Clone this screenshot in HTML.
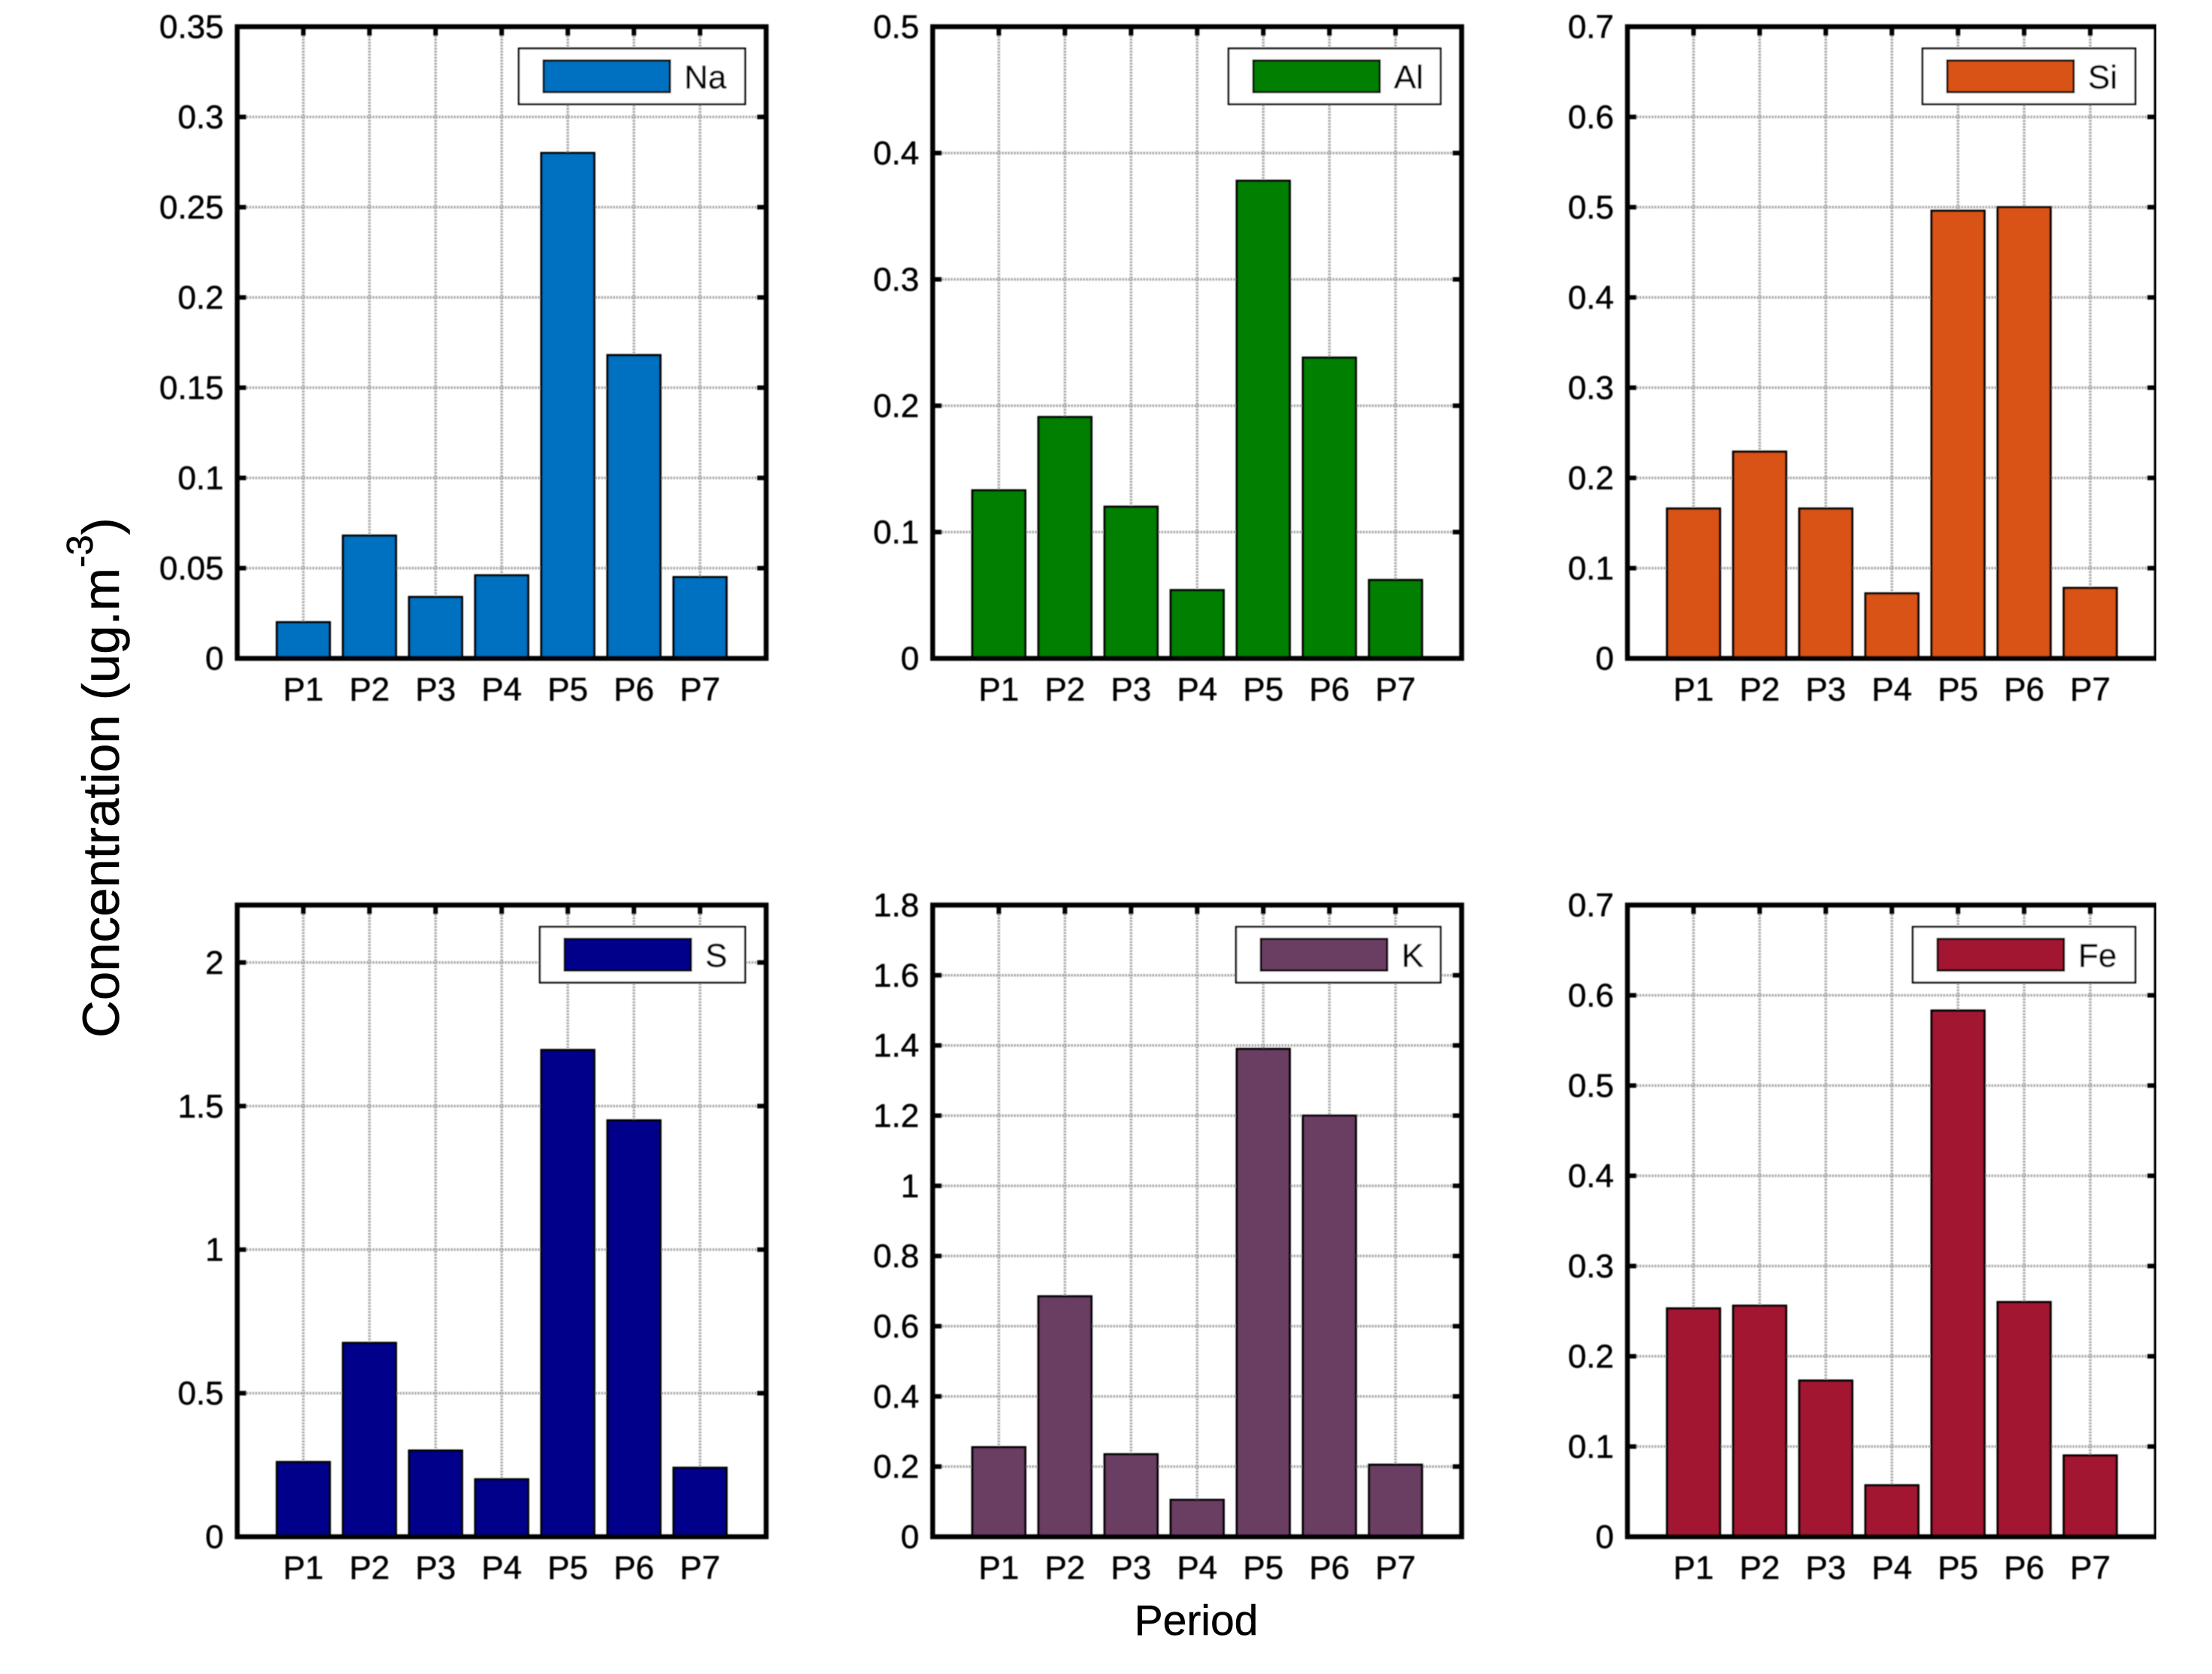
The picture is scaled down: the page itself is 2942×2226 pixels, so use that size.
<!DOCTYPE html>
<html lang="en">
<head>
<meta charset="utf-8">
<title>Concentration by period</title>
<style>
html,body{margin:0;padding:0;background:#fff;width:2942px;height:2226px;overflow:hidden}
svg{display:block;font-family:"Liberation Sans",sans-serif}
</style>
</head>
<body>
<svg id="figure" xmlns="http://www.w3.org/2000/svg" width="2942" height="2226" viewBox="0 0 2942 2226">
  <defs><filter id="soft" x="0" y="0" width="100%" height="100%"><feGaussianBlur stdDeviation="0.7"/></filter></defs>
  <rect width="2942" height="2226" fill="#ffffff"/>
  <g id="plots" filter="url(#soft)"></g>
  <text transform="translate(158 1380) rotate(-90)" font-size="69" fill="#000" stroke="#000" stroke-width="0.5">Concentration (ug.m<tspan dy="-35" font-size="49">-3</tspan><tspan dy="35">)</tspan></text>
  <text x="1591" y="2174" font-size="57" text-anchor="middle" fill="#000" stroke="#000" stroke-width="0.5">Period</text>
</svg>
<script>
const categories = ["P1", "P2", "P3", "P4", "P5", "P6", "P7"];

const naValues = [0.02, 0.068, 0.034, 0.046, 0.28, 0.168, 0.045];
const alValues = [0.133, 0.191, 0.12, 0.054, 0.378, 0.238, 0.062];
const siValues = [0.166, 0.229, 0.166, 0.072, 0.496, 0.5, 0.078];
const sValues = [0.26, 0.675, 0.3, 0.2, 1.695, 1.45, 0.24];
const kValues = [0.255, 0.685, 0.235, 0.105, 1.39, 1.2, 0.205];
const feValues = [0.253, 0.256, 0.173, 0.057, 0.583, 0.26, 0.09];

const naTicks = ["0", "0.05", "0.1", "0.15", "0.2", "0.25", "0.3", "0.35"];
const alTicks = ["0", "0.1", "0.2", "0.3", "0.4", "0.5"];
const siTicks = ["0", "0.1", "0.2", "0.3", "0.4", "0.5", "0.6", "0.7"];
const sTicks = ["0", "0.5", "1", "1.5", "2"];
const kTicks = ["0", "0.2", "0.4", "0.6", "0.8", "1", "1.2", "1.4", "1.6", "1.8"];
const feTicks = ["0", "0.1", "0.2", "0.3", "0.4", "0.5", "0.6", "0.7"];

const xMax = 8;
const barWidth = 0.8;
const plotWidth = 703.5;
const plotHeight = 840;

const panels = [
  {name: "na", label: "Na", values: naValues, ticks: naTicks, yMax: 0.35, color: "#0070c0", left: 315.5, top: 35.5, legendWidth: 301},
  {name: "al", label: "Al", values: alValues, ticks: alTicks, yMax: 0.5, color: "#007f00", left: 1240.5, top: 35.5, legendWidth: 282},
  {name: "si", label: "Si", values: siValues, ticks: siTicks, yMax: 0.7, color: "#da5318", left: 2164.5, top: 35.5, legendWidth: 283},
  {name: "s", label: "S", values: sValues, ticks: sTicks, yMax: 2.2, color: "#00008b", left: 315.5, top: 1203.5, legendWidth: 273},
  {name: "k", label: "K", values: kValues, ticks: kTicks, yMax: 1.8, color: "#6b3e63", left: 1240.5, top: 1203.5, legendWidth: 272},
  {name: "fe", label: "Fe", values: feValues, ticks: feTicks, yMax: 0.7, color: "#a21230", left: 2164.5, top: 1203.5, legendWidth: 296}
];

const SVG_NS = "http://www.w3.org/2000/svg";

function make(tag, attrs, parent) {
  const node = document.createElementNS(SVG_NS, tag);
  for (const key in attrs) node.setAttribute(key, attrs[key]);
  parent.appendChild(node);
  return node;
}

function xScale(panel, value) {
  return panel.left + (value / xMax) * plotWidth;
}

function yScale(panel, value) {
  return panel.top + plotHeight - (value / panel.yMax) * plotHeight;
}

const plots = document.getElementById("plots");

panels.forEach(function (panel) {
  const right = panel.left + plotWidth;
  const bottom = panel.top + plotHeight;

  const group = make("g", {}, plots);
  
  

  // Gridlines and y tick labels
  panel.ticks.forEach(function (label) {
    const value = parseFloat(label);
    const y = yScale(panel, value);
    if (value > 0 && value < panel.yMax) {
      const grid = make("line", {x1: panel.left, x2: right, y1: y, y2: y, stroke: "#a8a8a8", "stroke-width": 3.5, "stroke-dasharray": "2.5 1.5"}, group);
      
      
    }
    const text = make("text", {x: panel.left - 18, y: y + 15, "font-size": 44, "text-anchor": "end", fill: "#000", stroke: "#000", "stroke-width": 0.5}, group);
    
    
    text.textContent = label;
  });

  // Vertical gridlines and x tick labels
  categories.forEach(function (category, index) {
    const x = xScale(panel, index + 1);
    const grid = make("line", {x1: x, x2: x, y1: panel.top, y2: bottom, stroke: "#a8a8a8", "stroke-width": 3.5, "stroke-dasharray": "2.5 1.5"}, group);
    
    
    const text = make("text", {x: x, y: bottom + 56, "font-size": 44, "text-anchor": "middle", fill: "#000", stroke: "#000", "stroke-width": 0.5}, group);
    
    
    text.textContent = category;
  });

  // Bars
  panel.values.forEach(function (value, index) {
    const x0 = xScale(panel, index + 1 - barWidth / 2);
    const x1 = xScale(panel, index + 1 + barWidth / 2);
    const y0 = yScale(panel, value);
    const bar = make("rect", {x: x0, y: y0, width: x1 - x0, height: bottom - y0, fill: panel.color, stroke: "#000", "stroke-width": 3}, group);
    
    
  });

  // Inward tick marks
  panel.ticks.forEach(function (label) {
    const value = parseFloat(label);
    if (value <= 0 || value >= panel.yMax) return;
    const y = yScale(panel, value);
    const tickLeft = make("line", {x1: panel.left, x2: panel.left + 12, y1: y, y2: y, stroke: "#000", "stroke-width": 6}, group);
    
    
    const tickRight = make("line", {x1: right, x2: right - 12, y1: y, y2: y, stroke: "#000", "stroke-width": 6}, group);
    
    
  });
  categories.forEach(function (category, index) {
    const x = xScale(panel, index + 1);
    const tickTop = make("line", {x1: x, x2: x, y1: panel.top, y2: panel.top + 12, stroke: "#000", "stroke-width": 6}, group);
    
    
  });

  // Axes box
  const frame = make("rect", {x: panel.left, y: panel.top, width: plotWidth, height: plotHeight, fill: "none", stroke: "#000", "stroke-width": 6.5}, group);
  
  

  // Legend
  const legendRight = right - 28;
  const legendLeft = legendRight - panel.legendWidth;
  const legendTop = panel.top + 29;
  const legend = make("g", {}, group);
  
  
  const legendBox = make("rect", {x: legendLeft, y: legendTop, width: panel.legendWidth, height: 74, fill: "#fff", stroke: "#000", "stroke-width": 2.5}, legend);
  
  
  const swatch = make("rect", {x: legendLeft + 33, y: legendTop + 16, width: 168, height: 42, fill: panel.color, stroke: "#000", "stroke-width": 3}, legend);
  
  
  const legendText = make("text", {x: legendLeft + 220, y: legendTop + 53, "font-size": 44, fill: "#000", stroke: "#000", "stroke-width": 0.5}, legend);
  
  
  legendText.textContent = panel.label;
});
</script>
</body>
</html>
